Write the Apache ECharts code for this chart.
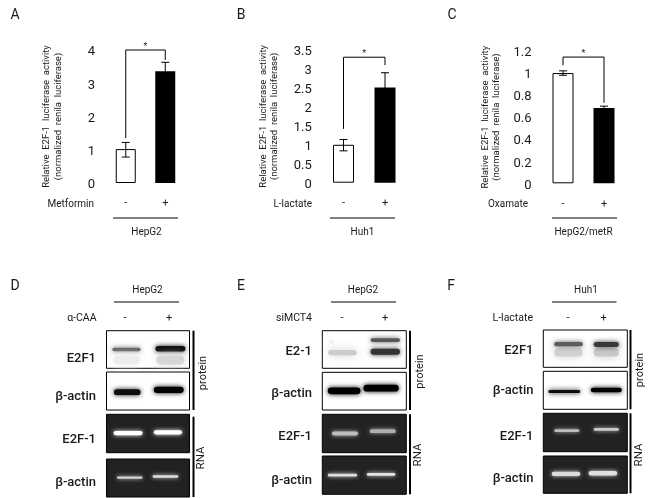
<!DOCTYPE html>
<html>
<head>
<meta charset="utf-8">
<style>
    html, body { margin: 0; padding: 0; background: #fff; }
    #main { width: 653px; height: 498px; }
</style>
<script src="https://cdn.jsdelivr.net/npm/echarts@6/dist/echarts.min.js"></script>
</head>
<body>
<div id="main"></div>
<script>
// bar charts: value, error low, error high per lane
var lanes = ['-', '+']
var valuesA = [1.02, 3.36]
var errorsA = [[0.78, 1.22], [3.1, 3.63]]
var bracketA = [1.35, 4, 3.7]
var valuesB = [1.0, 2.51]
var errorsB = [[0.84, 1.14], [2.15, 2.9]]
var bracketB = [1.42, 3.31, 3.1]
var valuesC = [1.0, 0.683]
var errorsC = [[0.98, 1.02], [0.67, 0.7]]
var bracketC = [1.07, 1.145, 0.73]

// blot bands: lane position, migration, width, thickness, signal (all 0-100 scale, signal 0-1)
var dE2f1 = [[24, 50, 34, 9, 0.6], [77, 48, 36, 14, 0.95], [24, 78, 32, 22, 0.07], [77, 78, 34, 24, 0.16]]
var dActin = [[25, 53, 32, 15, 0.95], [75, 47, 36, 17, 1]]
var dGelE2f1 = [[26, 49, 35, 11, 1], [74, 47, 34, 11, 1]]
var dGelActin = [[28, 49, 31, 6, 0.8], [71, 46, 31, 7, 0.86]]
var eE2f1 = [[24, 58, 34, 14, 0.2], [11, 29, 7, 10, 0.06], [75, 25, 35, 10, 0.66], [75, 56, 35, 16, 0.8]]
var eActin = [[26, 49, 39, 18, 1], [70, 42, 42, 18, 1]]
var eGelE2f1 = [[27, 50, 31, 10, 0.7], [72, 44, 31, 10, 0.64]]
var eGelActin = [[24, 50, 35, 7, 0.84], [70, 48, 34, 7, 0.88]]
var fE2f1 = [[30, 60, 34, 22, 0.18], [75, 60, 30, 22, 0.22], [30, 38, 34, 11, 0.64], [75, 39, 30, 13, 0.78]]
var fActin = [[25, 53, 38, 8, 0.95], [75, 49, 37, 12, 1]]
var fGelE2f1 = [[28, 45, 30, 7, 0.7], [75, 42, 30, 7, 0.76]]
var fGelActin = [[27, 48, 34, 11, 0.84], [71, 46, 34, 12, 0.86]]

var FONT = 'Roboto, "Noto Sans", sans-serif'
var INK = '#1a1a1a'

var chartBoxes = [
    { left: 106, top: 50, width: 79, height: 133, max: 4, step: 1, barWidth: 20, nameGap: 42, values: valuesA, errors: errorsA, bracket: bracketA },
    { left: 322.75, top: 50, width: 83, height: 132.7, max: 3.5, step: 0.5, barWidth: 21, nameGap: 42, values: valuesB, errors: errorsB, bracket: bracketB },
    { left: 542.5, top: 51, width: 82, height: 132.3, max: 1.2, step: 0.2, barWidth: 21, nameGap: 40, values: valuesC, errors: errorsC, bracket: bracketC }
]

var blotBoxes = [
    { left: 106.5, width: 83, top: 330.7, height: 37.6, gel: false, bands: dE2f1 },
    { left: 106.5, width: 83, top: 372, height: 38, gel: false, bands: dActin },
    { left: 106.5, width: 83, top: 414.3, height: 38.4, gel: true, bands: dGelE2f1 },
    { left: 106.5, width: 83, top: 459, height: 38, gel: true, bands: dGelActin },
    { left: 322.3, width: 84, top: 330.7, height: 37.6, gel: false, bands: eE2f1 },
    { left: 322.3, width: 84, top: 372.3, height: 37.7, gel: false, bands: eActin },
    { left: 322.3, width: 84, top: 414.3, height: 38.4, gel: true, bands: eGelE2f1 },
    { left: 322.3, width: 84, top: 456, height: 38.3, gel: true, bands: eGelActin },
    { left: 543.3, width: 84, top: 330, height: 37.3, gel: false, bands: fE2f1 },
    { left: 543.3, width: 84, top: 371.3, height: 38, gel: false, bands: fActin },
    { left: 543.3, width: 84, top: 413.3, height: 38.4, gel: true, bands: fGelE2f1 },
    { left: 543.3, width: 84, top: 456, height: 37.3, gel: true, bands: fGelActin }
]

var grids = [], xAxes = [], yAxes = [], series = []

function errorSeries(i, errors) {
    return {
        type: 'custom', xAxisIndex: i, yAxisIndex: i, silent: true, z: 5,
        data: errors.map(function (e, k) { return [k, e[0], e[1]] }),
        renderItem: function (params, api) {
            var lo = api.coord([api.value(0), api.value(1)])
            var hi = api.coord([api.value(0), api.value(2)])
            var st = { stroke: '#000', lineWidth: 1, fill: null }
            return {
                type: 'group',
                children: [
                    { type: 'line', shape: { x1: lo[0], y1: lo[1], x2: hi[0], y2: hi[1] }, style: st },
                    { type: 'line', shape: { x1: lo[0] - 4, y1: lo[1], x2: lo[0] + 4, y2: lo[1] }, style: st },
                    { type: 'line', shape: { x1: hi[0] - 4, y1: hi[1], x2: hi[0] + 4, y2: hi[1] }, style: st }
                ]
            }
        }
    }
}

function bracketSeries(i, b) {
    return {
        type: 'custom', xAxisIndex: i, yAxisIndex: i, silent: true, z: 6,
        data: [[0, b[0], b[1], 1, b[2]]],
        renderItem: function (params, api) {
            var a = api.coord([0, api.value(1)])
            var t0 = api.coord([0, api.value(2)])
            var t1 = api.coord([1, api.value(2)])
            var e = api.coord([1, api.value(4)])
            return {
                type: 'group',
                children: [
                    { type: 'polyline', shape: { points: [a, t0, t1, e] }, style: { stroke: '#000', lineWidth: 1, fill: null } },
                    { type: 'text', x: (t0[0] + t1[0]) / 2, y: t0[1] - 3, style: { text: '*', fontSize: 9, fontFamily: FONT, fill: INK, align: 'center', verticalAlign: 'middle' } }
                ]
            }
        }
    }
}

chartBoxes.forEach(function (c, i) {
    grids.push({ left: c.left, top: c.top, width: c.width, height: c.height })
    xAxes.push({
        type: 'category', gridIndex: i, data: lanes,
        axisLine: { show: false }, axisTick: { show: false },
        axisLabel: { margin: 15, fontSize: 11, color: INK, fontFamily: FONT }
    })
    yAxes.push({
        type: 'value', gridIndex: i, min: 0, max: c.max, interval: c.step,
        name: 'Relative  E2F-1  luciferase  activity\n(normalized  renila  luciferase)',
        nameLocation: 'middle', nameGap: c.nameGap, nameRotate: 90,
        nameTextStyle: { fontSize: 9.5, lineHeight: 11.5, color: INK, fontFamily: FONT },
        axisLine: { show: false }, axisTick: { show: false }, splitLine: { show: false },
        axisLabel: {
            margin: 11, formatter: '{v|{value}}',
            rich: { v: { fontSize: 13, color: INK, fontFamily: FONT, padding: [4, 0, 0, 0] } }
        }
    })
    series.push({
        type: 'bar', xAxisIndex: i, yAxisIndex: i, barWidth: c.barWidth, silent: true,
        data: [
            { value: c.values[0], itemStyle: { color: '#fff', borderColor: '#000', borderWidth: 1 } },
            { value: c.values[1], itemStyle: { color: '#000' } }
        ]
    })
    series.push(errorSeries(i, c.errors))
    series.push(bracketSeries(i, c.bracket))
})

blotBoxes.forEach(function (b, n) {
    var i = chartBoxes.length + n
    grids.push({
        left: b.left, top: b.top, width: b.width, height: b.height, show: true,
        backgroundColor: b.gel ? '#222' : '#fff', borderColor: '#000', borderWidth: 1
    })
    xAxes.push({ type: 'value', gridIndex: i, min: 0, max: 100, show: false })
    yAxes.push({ type: 'value', gridIndex: i, min: 0, max: 100, inverse: true, show: false })
    series.push({
        type: 'custom', xAxisIndex: i, yAxisIndex: i, silent: true,
        data: b.bands,
        renderItem: function (params, api) {
            var p = api.coord([api.value(0), api.value(1)])
            var s = api.size([api.value(2), api.value(3)])
            var sig = api.value(4)
            var g = b.gel ? Math.round(34 + sig * 221) : Math.round(255 * (1 - sig))
            var col = 'rgb(' + g + ',' + g + ',' + g + ')'
            return {
                type: 'rect',
                shape: { x: p[0] - s[0] / 2, y: p[1] - s[1] / 2, width: s[0], height: s[1], r: s[1] / 2 },
                style: { fill: col, shadowBlur: b.gel ? 4 : (sig < 0.4 ? 10 : 5), shadowColor: col }
            }
        }
    })
})

// annotation text and rules
function txt(x, y, text, size, align, extra) {
    var rotated = extra && extra.rotation
    var o = {
        type: 'text', x: x, y: rotated ? y : y + 1.5, silent: true,
        style: { text: text, fontSize: size, fontFamily: FONT, fill: INK, align: align || 'center', verticalAlign: 'middle' }
    }
    if (extra) {
        if (extra.rotation) o.rotation = extra.rotation
        if (extra.weight) o.style.fontWeight = extra.weight
    }
    return o
}
function rule(x1, y1, x2, y2, w) {
    return { type: 'line', silent: true, shape: { x1: x1, y1: y1, x2: x2, y2: y2 }, style: { stroke: '#000', lineWidth: w || 1 } }
}

var graphics = []
var panelLetters = [['A', 15, 14], ['B', 241, 14], ['C', 452, 14], ['D', 15, 285], ['E', 241, 285], ['F', 451, 285]]
panelLetters.forEach(function (l) { graphics.push(txt(l[1], l[2], l[0], 14)) })

var barCaptions = [
    ['Metformin', 94, 113, 178, 'HepG2', 146.5],
    ['L-lactate', 312, 330, 395, 'Huh1', 362.5],
    ['Oxamate', 528, 552, 617, 'HepG2/metR', 583.5]
]
barCaptions.forEach(function (c) {
    graphics.push(txt(c[1], 203, c[0], 10, 'right'))
    graphics.push(rule(c[2], 218, c[3], 218))
    graphics.push(txt(c[5], 231, c[4], 10))
})

var blotCaptions = [
    { cell: 'HepG2', cx: 147.5, x1: 114, x2: 179, drug: 'α-CAA', dx: 96.5, m: 125, p: 169, rows: ['E2F1', 'β-actin', 'E2F-1', 'β-actin'], rx: 96, ry: [357, 395, 438, 481.5], bar: 193.5, y: [330.7, 410, 416.7, 497], px: 203, py: 373, rnaX: 201, rnaY: 458 },
    { cell: 'HepG2', cx: 363, x1: 331, x2: 396, drug: 'siMCT4', dx: 312, m: 342, p: 385, rows: ['E2-1', 'β-actin', 'E2F-1', 'β-actin'], rx: 312, ry: [350, 392.5, 435.5, 479], bar: 410, y: [330.7, 410, 414.3, 494.3], px: 420, py: 371.5, rnaX: 418, rnaY: 455 },
    { cell: 'Huh1', cx: 586, x1: 552, x2: 616.5, drug: 'L-lactate', dx: 533, m: 568, p: 603.5, rows: ['E2F1', 'β-actin', 'E2F-1', 'β-actin'], rx: 533.5, ry: [349, 389, 435, 477.5], bar: 630.5, y: [330, 409.3, 413.3, 493.3], px: 640, py: 370, rnaX: 639, rnaY: 455 }
]
blotCaptions.forEach(function (c) {
    graphics.push(txt(c.cx, 289, c.cell, 10))
    graphics.push(rule(c.x1, 302, c.x2, 302))
    graphics.push(txt(c.dx, 316.5, c.drug, 10.5, 'right'))
    graphics.push(txt(c.m, 316.5, lanes[0], 11))
    graphics.push(txt(c.p, 316.5, lanes[1], 11))
    c.rows.forEach(function (r, k) {
        graphics.push(txt(c.rx, c.ry[k], r, 13, 'right', { weight: 500 }))
    })
    graphics.push(rule(c.bar, c.y[0], c.bar, c.y[1], 2))
    graphics.push(rule(c.bar, c.y[2], c.bar, c.y[3], 2))
    graphics.push(txt(c.px, c.py, 'protein', 11, 'center', { rotation: Math.PI / 2 }))
    graphics.push(txt(c.rnaX, c.rnaY, 'RNA', 11.5, 'center', { rotation: Math.PI / 2 }))
})

var myChart = echarts.init(document.getElementById('main'))
myChart.setOption({
    animation: false,
    backgroundColor: '#fff',
    grid: grids,
    xAxis: xAxes,
    yAxis: yAxes,
    series: series,
    graphic: graphics
})
</script>
</body>
</html>
